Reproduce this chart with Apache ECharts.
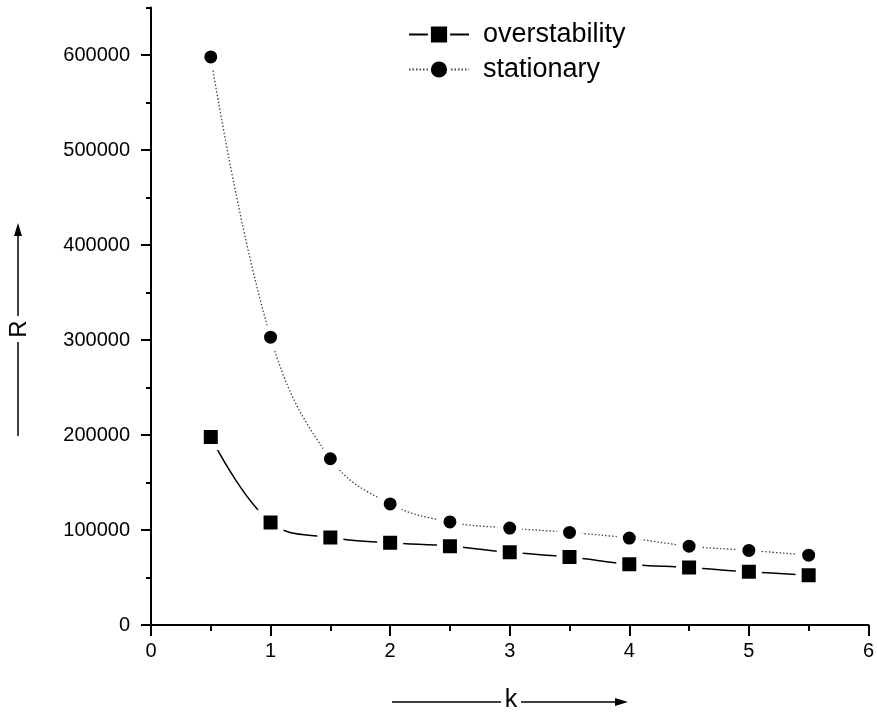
<!DOCTYPE html>
<html>
<head>
<meta charset="utf-8">
<script src="https://cdn.jsdelivr.net/npm/echarts@6/dist/echarts.min.js"></script>
<style>
html,body{margin:0;padding:0;background:#fff;}
#chart{width:877px;height:717px;}
</style>
</head>
<body>
<div id="chart"></div>
<script>
const kValues = [0.5, 1, 1.5, 2, 2.5, 3, 3.5, 4, 4.5, 5, 5.5];
const overstability = [198000, 108000, 92000, 86500, 83000, 76500, 71500, 64000, 60500, 56000, 52500];
const stationary = [598000, 303000, 175000, 127500, 108500, 102000, 97500, 91500, 83000, 78500, 73500];
const yMajorTicks = [0, 100000, 200000, 300000, 400000, 500000, 600000];
const yMinorTicks = [50000, 150000, 250000, 350000, 450000, 550000, 650000];
const seriesNames = ['overstability', 'stationary'];

const FONT = "'Liberation Sans', Arial, sans-serif";
const chart = echarts.init(document.getElementById('chart'), null, {renderer: 'canvas'});

const option = {
  backgroundColor: '#fff',
  animation: false,
  grid: {left: 151, right: 5, top: 7.5, bottom: 92, containLabel: false},
  legend: {
    orient: 'vertical',
    left: 408,
    top: 21,
    padding: 0,
    itemGap: 8,
    itemWidth: 60,
    itemHeight: 24,
    data: seriesNames,
    itemStyle: {borderWidth: 3, borderColor: '#fff'},
    textStyle: {fontFamily: FONT, fontSize: 27, color: '#000', padding: [0, 0, 0, 9]}
  },
  xAxis: {
    type: 'value',
    min: 0, max: 6, interval: 1,
    axisLine: {show: true, onZero: false, lineStyle: {color: '#000', width: 2}},
    axisTick: {show: true, length: 11, lineStyle: {color: '#000', width: 2}},
    minorTick: {show: true, splitNumber: 2, length: 6, lineStyle: {color: '#000', width: 2}},
    axisLabel: {fontFamily: FONT, fontSize: 20, color: '#000', margin: 16, formatter: v => String(v)},
    splitLine: {show: false}
  },
  yAxis: [{
    type: 'value',
    min: 0, max: 650000,
    axisLine: {show: true, onZero: false, lineStyle: {color: '#000', width: 2}},
    axisTick: {show: true, length: 10, customValues: yMajorTicks, lineStyle: {color: '#000', width: 2}},
    axisLabel: {fontFamily: FONT, fontSize: 20, color: '#000', margin: 21, customValues: yMajorTicks, formatter: v => String(v)},
    splitLine: {show: false}
  }, {
    type: 'value',
    position: 'left',
    min: 0, max: 650000,
    axisLine: {show: false},
    axisTick: {show: true, length: 5, customValues: yMinorTicks, lineStyle: {color: '#000', width: 2}},
    axisLabel: {show: false},
    splitLine: {show: false}
  }],
  series: [{
    name: seriesNames[0],
    type: 'line',
    yAxisIndex: 0,
    data: kValues.map((k, i) => [k, overstability[i]]),
    smooth: 0.4,
    symbol: 'rect',
    symbolSize: 20,
    itemStyle: {color: '#000', borderColor: '#fff', borderWidth: 6},
    lineStyle: {color: '#000', width: 1.5, type: 'solid'},
    z: 3
  }, {
    name: seriesNames[1],
    type: 'line',
    yAxisIndex: 0,
    data: kValues.map((k, i) => [k, stationary[i]]),
    smooth: 0.4,
    symbol: 'circle',
    symbolSize: 19,
    itemStyle: {color: '#000', borderColor: '#fff', borderWidth: 6},
    lineStyle: {color: '#444', width: 1.3, type: [1.5, 2]},
    z: 2
  }],
  graphic: [
    {type: 'line', shape: {x1: 392, y1: 702, x2: 501, y2: 702}, style: {stroke: '#000', lineWidth: 1.5}},
    {type: 'text', x: 511, y: 700, style: {text: 'k', fontFamily: FONT, fontSize: 25, fill: '#000', textAlign: 'center', textVerticalAlign: 'middle'}},
    {type: 'line', shape: {x1: 521, y1: 702, x2: 618, y2: 702}, style: {stroke: '#000', lineWidth: 1.5}},
    {type: 'polygon', shape: {points: [[628, 702], [615, 698], [615, 706]]}, style: {fill: '#000'}},
    {type: 'line', shape: {x1: 18, y1: 436, x2: 18, y2: 342}, style: {stroke: '#000', lineWidth: 1.5}},
    {type: 'text', x: 19, y: 329, rotation: Math.PI / 2, style: {text: 'R', fontFamily: FONT, fontSize: 24, fill: '#000', textAlign: 'center', textVerticalAlign: 'middle'}},
    {type: 'line', shape: {x1: 18, y1: 316, x2: 18, y2: 232}, style: {stroke: '#000', lineWidth: 1.5}},
    {type: 'polygon', shape: {points: [[18, 223], [14, 236], [22, 236]]}, style: {fill: '#000'}}
  ]
};
chart.setOption(option);
</script>
</body>
</html>
